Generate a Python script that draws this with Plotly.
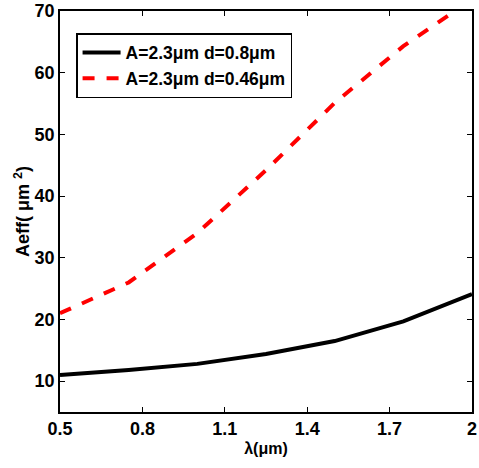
import plotly.graph_objects as go

wavelength = [0.5, 0.75, 1.0, 1.25, 1.5, 1.75, 2.0]
aeff_d08 = [11.0, 11.8, 12.8, 14.4, 16.5, 19.7, 24.1]
aeff_d046 = [21.0, 26.0, 34.0, 44.2, 55.1, 64.3, 71.9]
series_names = ["A=2.3μm d=0.8μm", "A=2.3μm d=0.46μm"]
x_ticks = [0.5, 0.8, 1.1, 1.4, 1.7, 2.0]
x_tick_text = ["0.5", "0.8", "1.1", "1.4", "1.7", "2"]
y_ticks = [10, 20, 30, 40, 50, 60, 70]

font_family = "Liberation Sans, Arial, sans-serif"

fig = go.Figure()
fig.add_trace(go.Scatter(x=wavelength, y=aeff_d08, mode="lines", name=series_names[0],
                         line=dict(color="black", width=4), cliponaxis=True))
fig.add_trace(go.Scatter(x=wavelength, y=aeff_d046, mode="lines", name=series_names[1],
                         line=dict(color="red", width=4, dash="dash"), cliponaxis=True))

axis_common = dict(showgrid=False, zeroline=False, showline=True, linecolor="black", linewidth=1.5,
                   mirror="ticks", ticks="inside", ticklen=5, tickcolor="black", automargin=False,
                   tickfont=dict(family=font_family, size=18, color="black", weight="bold"))

fig.update_layout(
    width=479, height=468,
    margin=dict(l=60, r=7, t=11, b=56),
    paper_bgcolor="white", plot_bgcolor="white",
    font=dict(family=font_family, color="black"),
    xaxis=dict(range=[0.5, 2.0], tickvals=x_ticks, ticktext=x_tick_text,
               title=dict(text="λ(μm)", font=dict(family=font_family, size=16, weight="bold"), standoff=4),
               **axis_common),
    yaxis=dict(range=[5, 70], tickvals=y_ticks,
               title=dict(text="Aeff( μm <sup>2</sup>)", font=dict(family=font_family, size=18, weight="bold"), standoff=0),
               **axis_common),
    legend=dict(x=0.039, y=0.945, xanchor="left", yanchor="top",
                bgcolor="white", bordercolor="black", borderwidth=1.5,
                font=dict(family=font_family, size=17.5, color="black", weight="bold"),
                itemwidth=38, tracegroupgap=2),
    showlegend=True,
)

fig.write_html("out.html", post_script="document.body.style.margin='0';",
               config={"displayModeBar": False})
